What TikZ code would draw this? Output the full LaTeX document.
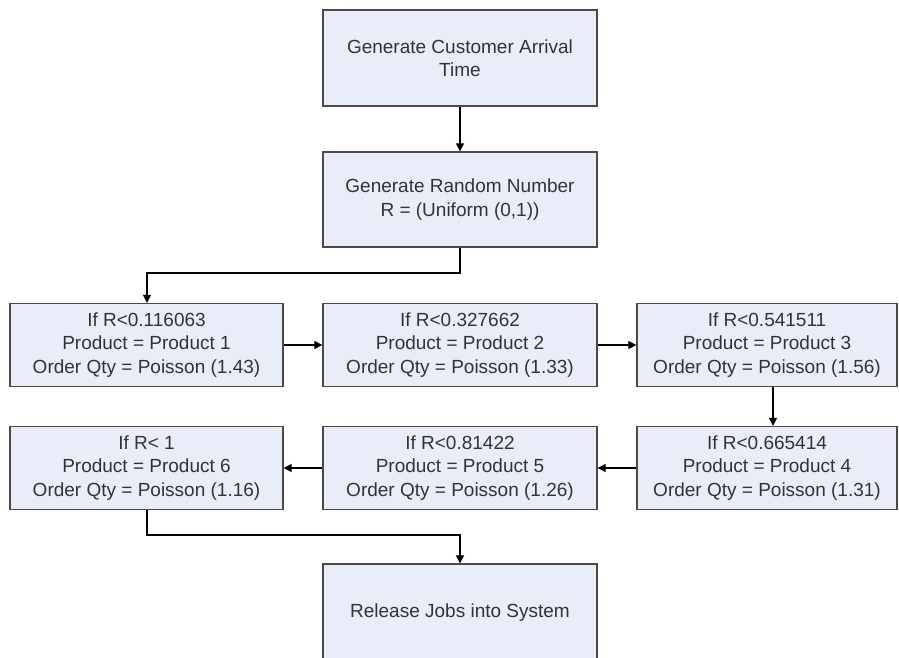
\documentclass[tikz,border=0pt]{standalone}
\usepackage{fontspec}
\setmainfont{Liberation Sans}
\usetikzlibrary{arrows.meta}
\definecolor{boxfill}{HTML}{E8EDF7}
\definecolor{boxline}{HTML}{4A4A4A}
\definecolor{txt}{HTML}{333333}
\begin{document}
\begin{tikzpicture}[x=1pt,y=-1pt,
  blk/.style={draw=boxline,line width=1.3pt,fill=boxfill,text=txt,align=center,
    font=\fontsize{19}{23.5}\selectfont,inner sep=0pt},
  conn/.style={draw=black,line width=1.2pt,-{Triangle[length=8pt,width=8pt]}}]
\useasboundingbox (0,0) rectangle (899,658);
\node[blk,minimum width=274pt,minimum height=96pt] (arr) at (460,58) {Generate Customer Arrival\\Time};
\node[blk,minimum width=274pt,minimum height=95pt] (rnd) at (460,199.5) {Generate Random Number\\R = (Uniform (0,1))};
\node[blk,minimum width=273pt,minimum height=83pt] (p1) at (146.5,345) {If R<0.116063\\Product = Product 1\\Order Qty = Poisson (1.43)};
\node[blk,minimum width=274pt,minimum height=83pt] (p2) at (460,345) {If R<0.327662\\Product = Product 2\\Order Qty = Poisson (1.33)};
\node[blk,minimum width=260pt,minimum height=83pt] (p3) at (767,345) {If R<0.541511\\Product = Product 3\\Order Qty = Poisson (1.56)};
\node[blk,minimum width=260pt,minimum height=83pt] (p4) at (767,468) {If R<0.665414\\Product = Product 4\\Order Qty = Poisson (1.31)};
\node[blk,minimum width=274pt,minimum height=83pt] (p5) at (460,468) {If R<0.81422\\Product = Product 5\\Order Qty = Poisson (1.26)};
\node[blk,minimum width=273pt,minimum height=83pt] (p6) at (146.5,468) {If R< 1\\Product = Product 6\\Order Qty = Poisson (1.16)};
\node[blk,minimum width=274pt,minimum height=98pt] (rel) at (460,613) {Release Jobs into System};
\coordinate (e1) at (460,273);
\coordinate (e2) at (147,273);
\coordinate (e3) at (147,535);
\coordinate (e4) at (460,535);
\draw[conn] (arr.south) -- (rnd.north);
\draw[conn] (rnd.south) -- (e1) -- (e2) -- (p1.north -| e2);
\draw[conn] (p1.east) -- (p2.west);
\draw[conn] (p2.east) -- (p3.west);
\draw[conn] (p3.south -| 773,0) -- (p4.north -| 773,0);
\draw[conn] (p4.west) -- (p5.east);
\draw[conn] (p5.west) -- (p6.east);
\draw[conn] (p6.south -| e3) -- (e3) -- (e4) -- (rel.north);
\end{tikzpicture}
\end{document}
